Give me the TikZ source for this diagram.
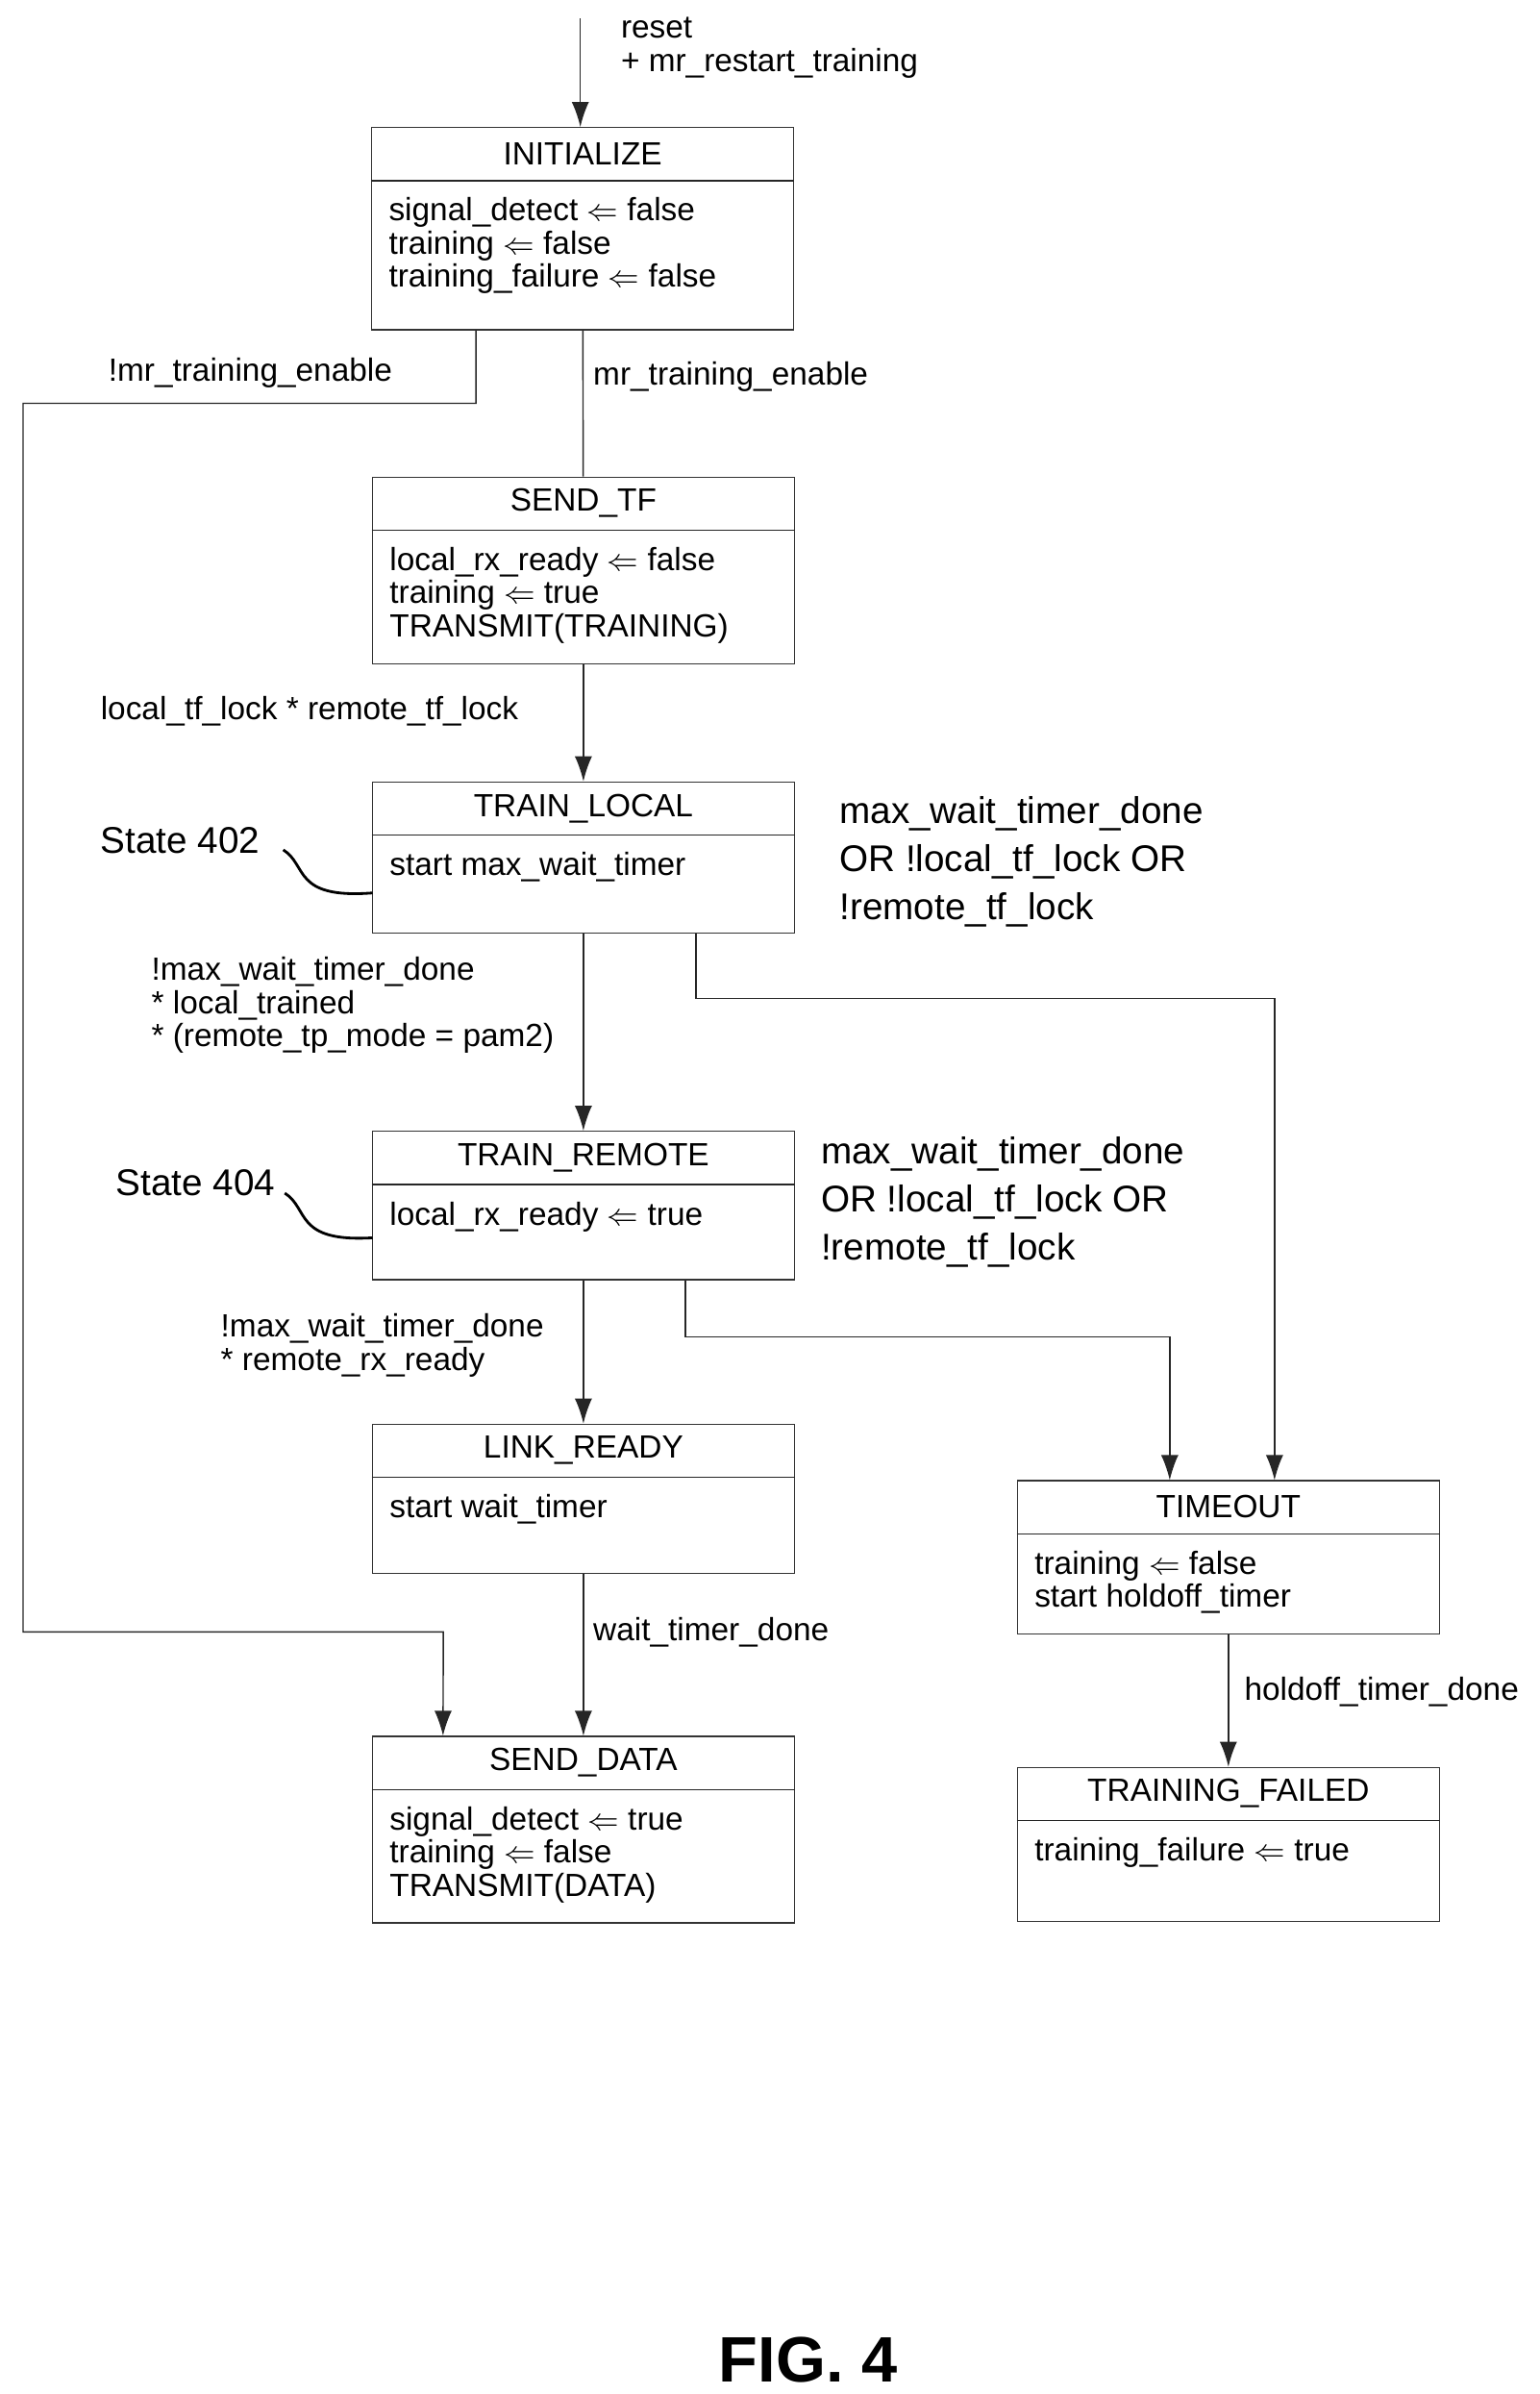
\documentclass[tikz,border=0pt]{standalone}
\usepackage{fontspec}
\setmainfont{Liberation Sans}
\usetikzlibrary{arrows.meta}
\usetikzlibrary{positioning}
\begin{document}
\begin{tikzpicture}[x=0.1601mm,y=-0.1601mm,
    state/.style={shape=rectangle,draw=black!80,thin,minimum width=43.9mm,inner sep=0pt},
    title/.style={font=\fontsize{9.5}{10}\selectfont,inner sep=0pt},
    body/.style={font=\fontsize{9.5}{9.8}\selectfont,align=left,anchor=north west,inner sep=0pt},
    cond/.style={font=\fontsize{9.5}{9.8}\selectfont,align=left,anchor=west,inner sep=0pt},
    note/.style={font=\fontsize{11}{14.2}\selectfont,align=left,anchor=west,inner sep=0pt},
    arrow/.style={-{Latex[length=2.6mm,width=1.8mm]},thin,draw=black!85},
    line/.style={thin,draw=black!85}]
    \useasboundingbox (0,0) rectangle (1000,1555);

    % states
    \node[state,minimum height=21.0mm] (init) at (378.5,148.5) {};
    \node[state,minimum height=19.4mm] (sendtf) at (379,370.5) {};
    \node[state,minimum height=15.7mm] (trainlocal) at (379,557) {};
    \node[state,minimum height=15.4mm] (trainremote) at (379,783) {};
    \node[state,minimum height=15.5mm] (linkready) at (379,973.5) {};
    \node[state,minimum height=19.4mm] (senddata) at (379,1188.5) {};
    \node[state,minimum height=15.9mm] (timeout) at (798,1011.5) {};
    \node[state,minimum height=16.0mm] (failed) at (798,1198) {};

    \foreach \s/\t in {init/INITIALIZE,sendtf/SEND\_TF,trainlocal/TRAIN\_LOCAL,
        trainremote/TRAIN\_REMOTE,linkready/LINK\_READY,senddata/SEND\_DATA,
        timeout/TIMEOUT,failed/TRAINING\_FAILED} {
      \node[title] (\s-title) at ([yshift=-2.8mm]\s.north) {\t};
      \draw[line] ([yshift=-5.6mm]\s.north west) -- ([yshift=-5.6mm]\s.north east);
    }

    \node[body] (init-body) at ([xshift=1.8mm,yshift=-7.3mm]init.north west)
      {signal\_detect $\Leftarrow$ false\\training $\Leftarrow$ false\\training\_failure $\Leftarrow$ false};
    \node[body] (sendtf-body) at ([xshift=1.8mm,yshift=-7.3mm]sendtf.north west)
      {local\_rx\_ready $\Leftarrow$ false\\training $\Leftarrow$ true\\TRANSMIT(TRAINING)};
    \node[body] (trainlocal-body) at ([xshift=1.8mm,yshift=-7.3mm]trainlocal.north west)
      {start max\_wait\_timer};
    \node[body] (trainremote-body) at ([xshift=1.8mm,yshift=-7.3mm]trainremote.north west)
      {local\_rx\_ready $\Leftarrow$ true};
    \node[body] (linkready-body) at ([xshift=1.8mm,yshift=-7.3mm]linkready.north west)
      {start wait\_timer};
    \node[body] (senddata-body) at ([xshift=1.8mm,yshift=-7.3mm]senddata.north west)
      {signal\_detect $\Leftarrow$ true\\training $\Leftarrow$ false\\TRANSMIT(DATA)};
    \node[body] (timeout-body) at ([xshift=1.8mm,yshift=-7.3mm]timeout.north west)
      {training $\Leftarrow$ false\\start holdoff\_timer};
    \node[body] (failed-body) at ([xshift=1.8mm,yshift=-7.3mm]failed.north west)
      {training\_failure $\Leftarrow$ true};

    % transitions
    \coordinate (entry) at (377,12);
    \draw[arrow] (entry) -- (entry |- init.north);
    \node[cond] (reset) at (403,31) {reset\\+ mr\_restart\_training};

    \draw[line] (init) -- (sendtf);
    \node[cond] (enable) at (385,245) {mr\_training\_enable};

    \draw[arrow] ([xshift=-11.1mm]init.south) |- (15,262) |- (288,1060)
      -- ([xshift=-14.6mm]senddata.north);
    \node[cond] (notenable) at (70,242) {!mr\_training\_enable};

    \draw[arrow] (sendtf) -- (trainlocal);
    \node[cond] (locks) at (65,462) {local\_tf\_lock * remote\_tf\_lock};

    \draw[arrow] (trainlocal) -- (trainremote);
    \node[cond] (trained) at (98,653) {!max\_wait\_timer\_done\\* local\_trained\\* (remote\_tp\_mode = pam2)};

    \draw[arrow] ([xshift=11.7mm]trainlocal.south) -- ++(0,42) -| ([xshift=4.8mm]timeout.north);
    \node[note] (fail1) at (545,560) {max\_wait\_timer\_done\\OR !local\_tf\_lock OR\\!remote\_tf\_lock};

    \draw[arrow] (trainremote) -- (linkready);
    \node[cond] (rxready) at (143,874) {!max\_wait\_timer\_done\\* remote\_rx\_ready};

    \draw[arrow] ([xshift=10.6mm]trainremote.south) -- ++(0,37) -| ([xshift=-6.1mm]timeout.north);
    \node[note] (fail2) at (533,781) {max\_wait\_timer\_done\\OR !local\_tf\_lock OR\\!remote\_tf\_lock};

    \draw[arrow] (linkready) -- (senddata);
    \node[cond] (waitdone) at (385,1060) {wait\_timer\_done};

    \draw[arrow] (timeout) -- (failed);
    \node[cond] (holdoff) at (808,1099) {holdoff\_timer\_done};

    % reference labels
    \node[note] (s402) at (65,546) {State 402};
    \draw[thick] (184,552) .. controls (200,562) and (190,584) .. (242,580);
    \node[note] (s404) at (75,768) {State 404};
    \draw[thick] (185,775) .. controls (201,785) and (191,807) .. (242,804);

    \node[font=\fontsize{19}{22}\selectfont\bfseries,inner sep=0pt] (fig) at (525,1533) {FIG. 4};
\end{tikzpicture}
\end{document}
